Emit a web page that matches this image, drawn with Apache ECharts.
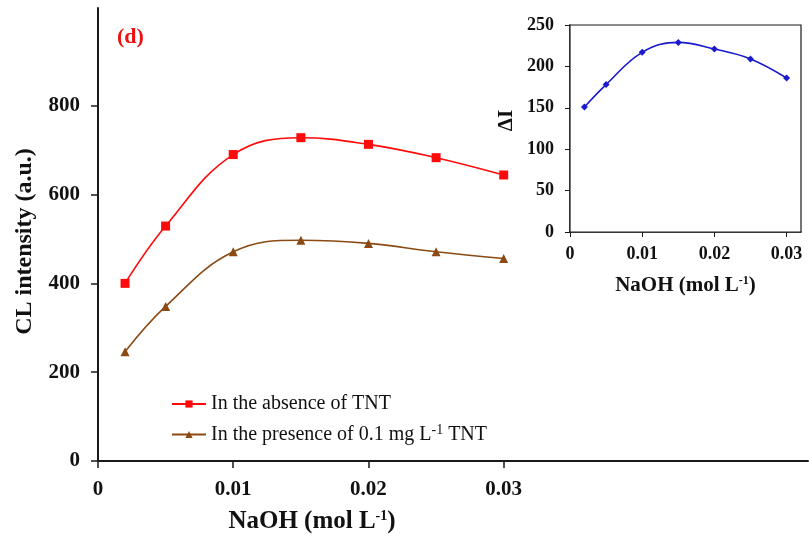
<!DOCTYPE html>
<html><head><meta charset="utf-8">
<script src="https://cdn.jsdelivr.net/npm/echarts@6/dist/echarts.min.js"></script>
<style>html,body{margin:0;padding:0;background:#fff}#c{width:809px;height:539px}</style>
</head><body><div id="c"></div>
<script>
const naoh = [0.002, 0.005, 0.01, 0.015, 0.02, 0.025, 0.03];
const absenceTNT = [400, 529, 690, 728, 713, 683, 644];
const presenceTNT = [246, 348, 471, 497, 490, 471, 456];
const deltaI = [151, 178, 217, 229, 221, 209, 186];
const mainYTicks = [0, 200, 400, 600, 800];
const xTicks = [0, 0.01, 0.02, 0.03];

const pair = (xs, ys) => xs.map((x, i) => [x, ys[i]]);
const FONT = '"Liberation Serif","Times New Roman",serif';
const fmtX = v => (v === 0 ? '0' : String(+v.toFixed(3)));
const axisCol = '#1a1a1a';

const chart = echarts.init(document.getElementById('c'));
chart.setOption({
  animation: false,
  backgroundColor: '#fff',
  textStyle: { fontFamily: FONT },
  title: { text: '(d)', left: 112, top: 21, textStyle: { color: '#ee1111', fontSize: 22, fontWeight: 'bold', fontFamily: FONT } },
  legend: {
    orient: 'vertical', left: 166, top: 389, itemGap: 9, itemWidth: 34, itemHeight: 9,
    textStyle: { fontSize: 20, fontFamily: FONT, color: '#111', rich: { sup: { fontSize: 14, verticalAlign: 'top', padding: [0, 0, 9, 0], fontFamily: FONT } } },
    formatter: n => n === 'presence' ? 'In the presence of 0.1 mg L{sup|-1} TNT' : 'In the absence of TNT',
    data: ['absence', 'presence']
  },
  grid: [
    { left: 98, top: 8, right: 1, bottom: 75 },
    { left: 570, top: 25, width: 231, height: 207, show: true, borderColor: axisCol, borderWidth: 1.2, backgroundColor: '#fff', z: 5 }
  ],
  xAxis: [
    { type: 'value', gridIndex: 0, min: 0, max: 0.0525, interval: 0.01,
      splitLine: { show: false },
      axisLine: { lineStyle: { color: axisCol, width: 2 } },
      axisTick: { length: 7, customValues: xTicks, lineStyle: { color: axisCol, width: 1.5 } },
      axisLabel: { customValues: xTicks, formatter: fmtX, margin: 18, fontSize: 21, fontWeight: 'bold', color: '#111', fontFamily: FONT },
      name: 'NaOH (mol L{sup|-1})', nameLocation: 'middle', nameGap: 48,
      nameTextStyle: { fontSize: 25, fontWeight: 'bold', color: '#111', fontFamily: FONT, padding: [0, 282, 0, 0],
        rich: { sup: { fontSize: 14, fontWeight: 'bold', fontFamily: FONT, verticalAlign: 'top', padding: [0, 0, 11, 0], color: '#111' } } }
    },
    { type: 'value', gridIndex: 1, min: 0, max: 0.032, interval: 0.01,
      splitLine: { show: false },
      axisLine: { lineStyle: { color: axisCol, width: 1.5 } },
      axisTick: { length: 5, customValues: xTicks, lineStyle: { color: axisCol } },
      axisLabel: { customValues: xTicks, formatter: fmtX, margin: 13, fontSize: 18, fontWeight: 'bold', color: '#111', fontFamily: FONT },
      name: 'NaOH (mol L{sup|-1})', nameLocation: 'middle', nameGap: 43,
      nameTextStyle: { fontSize: 21, fontWeight: 'bold', color: '#111', fontFamily: FONT,
        rich: { sup: { fontSize: 12, fontWeight: 'bold', verticalAlign: 'top', padding: [0, 0, 9, 0], fontFamily: FONT, color: '#111' } } }
    }
  ],
  yAxis: [
    { type: 'value', gridIndex: 0, min: 0, max: 1020,
      splitLine: { show: false },
      axisLine: { show: true, lineStyle: { color: axisCol, width: 2 } },
      axisTick: { show: true, length: 7, customValues: mainYTicks, lineStyle: { color: axisCol, width: 1.5 } },
      axisLabel: { customValues: mainYTicks, margin: 18, fontSize: 21, fontWeight: 'bold', color: '#111', fontFamily: FONT },
      name: 'CL intensity (a.u.)', nameLocation: 'middle', nameGap: 61,
      nameTextStyle: { fontSize: 24, fontWeight: 'bold', color: '#111', fontFamily: FONT, padding: [0, 14, 0, 0] }
    },
    { type: 'value', gridIndex: 1, min: 0, max: 250, interval: 50,
      splitLine: { show: false },
      axisLine: { show: true, lineStyle: { color: axisCol, width: 1.5 } },
      axisTick: { show: true, length: 5, lineStyle: { color: axisCol } },
      axisLabel: { margin: 16, fontSize: 18, fontWeight: 'bold', color: '#111', fontFamily: FONT },
      name: 'ΔI', nameLocation: 'middle', nameGap: 53, nameRotate: 90,
      nameTextStyle: { fontSize: 21, fontWeight: 'bold', color: '#111', fontFamily: FONT, padding: [0, 0, 0, 16] }
    }
  ],
  series: [
    { name: 'absence', type: 'line', xAxisIndex: 0, yAxisIndex: 0, data: pair(naoh, absenceTNT), smooth: 0.4,
      symbol: 'rect', symbolSize: 9, color: '#ff0a0a', lineStyle: { width: 1.6, color: '#ff0a0a' }, itemStyle: { color: '#ff0a0a' } },
    { name: 'presence', type: 'line', xAxisIndex: 0, yAxisIndex: 0, data: pair(naoh, presenceTNT), smooth: 0.4,
      symbol: 'triangle', symbolSize: 9, color: '#8b4a14', lineStyle: { width: 1.6, color: '#8b4a14' }, itemStyle: { color: '#8b4a14' } },
    { name: 'deltaI', type: 'line', xAxisIndex: 1, yAxisIndex: 1, data: pair(naoh, deltaI), smooth: 0.4, z: 10,
      symbol: 'diamond', symbolSize: 7, lineStyle: { width: 1.6, color: '#1a1acc' }, itemStyle: { color: '#1a1acc' } }
  ]
});
</script>
</body></html>
